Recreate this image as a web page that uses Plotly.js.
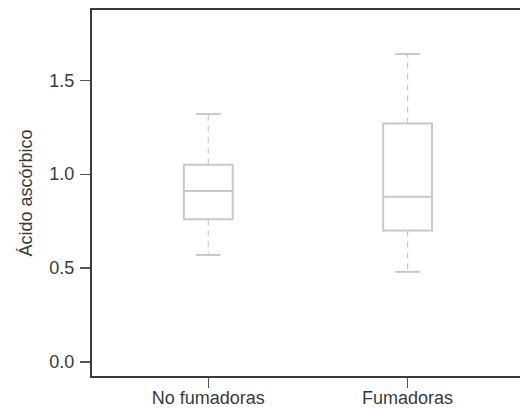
<!DOCTYPE html>
<html>
<head>
<meta charset="utf-8">
<script src="https://cdn.plot.ly/plotly-3.0.1.min.js"></script>
<style>
html, body { margin: 0; padding: 0; overflow: hidden; background: #fff; }
#chart { width: 560px; height: 408px; }
</style>
</head>
<body>
<div id="chart"></div>
<script>
// Data
var categories = ["No fumadoras", "Fumadoras"];
var lowerWhisker = [0.57, 0.48];
var q1 = [0.76, 0.70];
var median = [0.91, 0.88];
var q3 = [1.05, 1.27];
var upperWhisker = [1.32, 1.64];
var yTicks = [0.0, 0.5, 1.0, 1.5];
var yTickText = ["0.0", "0.5", "1.0", "1.5"];

var positions = categories.map(function (c, i) { return i; });
var boxColor = "#c8c8c8";
var axisColor = "#3a3a3a";
var textColor = "#3a3a3a";
var capHalf = 0.062;

var boxTrace = {
  type: "box",
  x: positions,
  q1: q1,
  median: median,
  q3: q3,
  lowerfence: q1,
  upperfence: q3,
  width: 0.245,
  whiskerwidth: 0,
  boxpoints: false,
  fillcolor: "rgba(255,255,255,0)",
  line: { color: boxColor, width: 2 },
  hoverinfo: "skip",
  showlegend: false
};

var wx = [], wy = [];
positions.forEach(function (p, i) {
  wx.push(p, p, null, p, p, null);
  wy.push(q3[i], upperWhisker[i], null, q1[i], lowerWhisker[i], null);
});
var whiskers = {
  type: "scatter", mode: "lines", x: wx, y: wy,
  line: { color: boxColor, width: 1.2, dash: "6px,5px" },
  hoverinfo: "skip", showlegend: false
};

var cx = [], cy = [];
positions.forEach(function (p, i) {
  cx.push(p - capHalf, p + capHalf, null, p - capHalf, p + capHalf, null);
  cy.push(upperWhisker[i], upperWhisker[i], null, lowerWhisker[i], lowerWhisker[i], null);
});
var caps = {
  type: "scatter", mode: "lines", x: cx, y: cy,
  line: { color: boxColor, width: 2 },
  hoverinfo: "skip", showlegend: false
};

var layout = {
  width: 560,
  height: 408,
  margin: { l: 92, r: 10, t: 10, b: 32 },
  paper_bgcolor: "#ffffff",
  plot_bgcolor: "#ffffff",
  font: { family: "Liberation Sans, Arial, sans-serif", color: textColor, size: 18 },
  showlegend: false,
  xaxis: {
    range: [-0.5835, 1.7145],
    tickmode: "array",
    tickvals: positions,
    ticktext: categories,
    ticks: "outside",
    ticklen: 10,
    tickwidth: 1.2,
    tickcolor: "#555555",
    ticklabelstandoff: -6,
    showline: true,
    mirror: true,
    linecolor: axisColor,
    linewidth: 2,
    showgrid: false,
    zeroline: false,
    tickfont: { size: 18, color: textColor }
  },
  yaxis: {
    range: [-0.0745, 1.874],
    tickmode: "array",
    tickvals: yTicks,
    ticktext: yTickText,
    ticks: "outside",
    ticklen: 10,
    tickwidth: 1.2,
    tickcolor: "#555555",
    ticklabelstandoff: 2,
    showline: true,
    mirror: true,
    linecolor: axisColor,
    linewidth: 2,
    showgrid: false,
    zeroline: false,
    tickfont: { size: 18, color: textColor },
    title: { text: "Ácido ascórbico", font: { size: 18, color: textColor }, standoff: 12 }
  }
};

Plotly.newPlot("chart", [boxTrace, whiskers, caps], layout, { staticPlot: true, displayModeBar: false });
</script>
</body>
</html>
